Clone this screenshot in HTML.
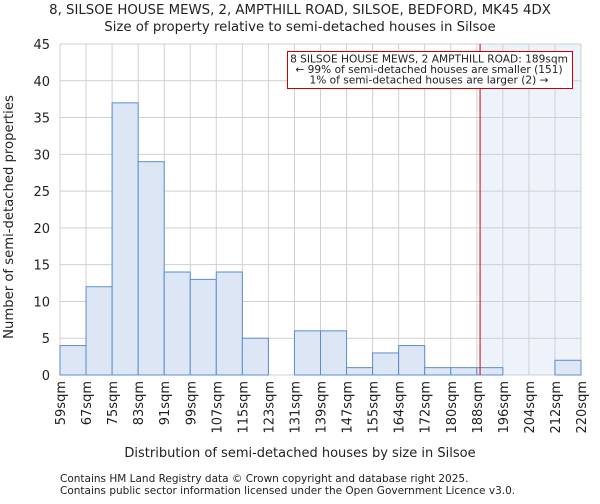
<!DOCTYPE html>
<html><head><meta charset="utf-8"><style>
body{margin:0;background:#fff;font-family:"DejaVu Sans","Liberation Sans",sans-serif;}
svg text{font-family:"DejaVu Sans","Liberation Sans",sans-serif;fill:#222;}
</style></head><body>
<svg id="c" width="600" height="500" xmlns="http://www.w3.org/2000/svg">
<text x="300" y="14" font-size="13.3" text-anchor="middle">8, SILSOE HOUSE MEWS, 2, AMPTHILL ROAD, SILSOE, BEDFORD, MK45 4DX</text>
<text x="300" y="31" font-size="13.3" text-anchor="middle">Size of property relative to semi-detached houses in Silsoe</text>
<g id="plot"></g>
<text x="300" y="457" font-size="13" text-anchor="middle">Distribution of semi-detached houses by size in Silsoe</text>
<text transform="translate(13,217) rotate(-90)" font-size="13.2" text-anchor="middle">Number of semi-detached properties</text>
<text x="60" y="482" font-size="10.5">Contains HM Land Registry data © Crown copyright and database right 2025.</text>
<text x="60" y="494" font-size="10.5">Contains public sector information licensed under the Open Government Licence v3.0.</text>
</svg>
<script>
const binLabels=["59sqm","67sqm","75sqm","83sqm","91sqm","99sqm","107sqm","115sqm","123sqm","131sqm","139sqm","147sqm","155sqm","164sqm","172sqm","180sqm","188sqm","196sqm","204sqm","212sqm","220sqm"];
const counts=[4,12,37,29,14,13,14,5,0,6,6,1,3,4,1,1,1,0,0,2];
const yTicks=[0,5,10,15,20,25,30,35,40,45];
const propertyBinPos=16.125;
const NS="http://www.w3.org/2000/svg";
const L=60,R=581,T=44,B=375,yMax=45;
const bw=(R-L)/counts.length;
const xs=i=>L+i*bw;
const ys=v=>B-(B-T)*v/yMax;
const g=document.getElementById('plot');
function mk(t,a){const e=document.createElementNS(NS,t);for(const k in a)e.setAttribute(k,a[k]);g.appendChild(e);return e;}
const hx=xs(propertyBinPos);
let e=mk('rect',{x:hx,y:T,width:R-hx,height:B-T,fill:'#eef2fb'});


yTicks.forEach(v=>{
 let l=mk('line',{x1:L,x2:R,y1:ys(v),y2:ys(v),stroke:'#d0d0d0','stroke-width':1});
 
 
 let t=mk('text',{x:L-10,y:ys(v)+5,'font-size':'13','text-anchor':'end'});t.textContent=v;
 
 
});
binLabels.forEach((s,i)=>{
 let l=mk('line',{x1:xs(i),x2:xs(i),y1:T,y2:B,stroke:'#d0d0d0','stroke-width':1});
 
 
 let t=mk('text',{transform:`translate(${xs(i)+5},${B+6}) rotate(-90)`,'font-size':'13','text-anchor':'end'});t.textContent=s;
 
 
});
counts.forEach((v,i)=>{
 if(v<=0)return;
 let r=mk('rect',{x:xs(i),y:ys(v),width:bw,height:B-ys(v),fill:'#dde6f4',stroke:'#5b8dd0','stroke-width':1});
 
 
});
e=mk('line',{x1:hx,x2:hx,y1:T,y2:B,stroke:'#cc0000','stroke-width':1});


e=mk('rect',{x:287.5,y:51.5,width:285,height:37,fill:'#fff',stroke:'#cc0000','stroke-width':1});


["8 SILSOE HOUSE MEWS, 2 AMPTHILL ROAD: 189sqm","← 99% of semi-detached houses are smaller (151)","1% of semi-detached houses are larger (2) →"].forEach((s,i)=>{
 let t=mk('text',{x:429,y:62.5+i*10.5,'font-size':'10.6','text-anchor':'middle'});t.textContent=s;
 
 
});
</script>
</body></html>
